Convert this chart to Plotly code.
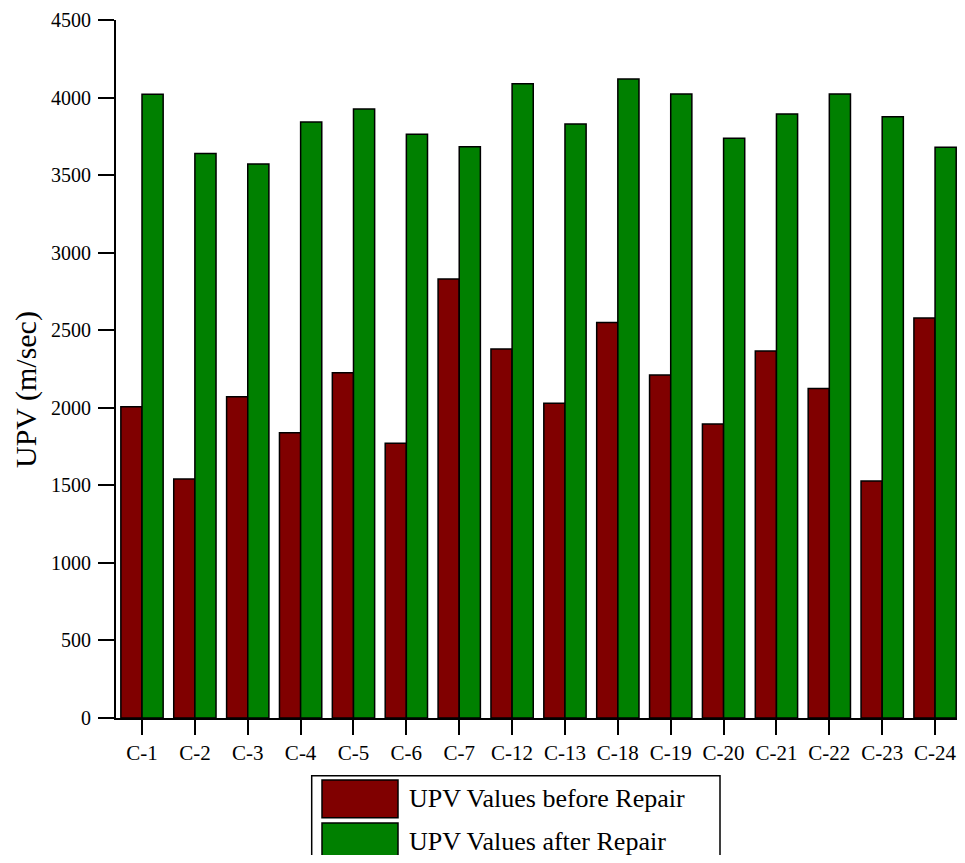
import plotly.graph_objects as go

categories = ["C-1", "C-2", "C-3", "C-4", "C-5", "C-6", "C-7", "C-12",
              "C-13", "C-18", "C-19", "C-20", "C-21", "C-22", "C-23", "C-24"]
before_repair = [2007, 1541, 2071, 1839, 2226, 1771, 2830, 2379,
                 2029, 2549, 2211, 1895, 2366, 2125, 1528, 2579]
after_repair = [4021, 3640, 3572, 3842, 3926, 3763, 3683, 4089,
                3830, 4120, 4023, 3737, 3894, 4023, 3877, 3679]
series_names = ["UPV Values before Repair", "UPV Values after Repair"]
series_colors = ["#800000", "#008000"]
y_ticks = [0, 500, 1000, 1500, 2000, 2500, 3000, 3500, 4000, 4500]
y_title = "UPV (m/sec)"

# page body has an 8px margin: figure drawn from (8, 8); keep it inside the window
OFF = 8
W, H = 965 - 2 * OFF, 863 - 2 * OFF
L, R, T = 116 - OFF, 0, 20 - OFF
B = H - T - 698
pw, ph = W - L - R, H - T - B

def px(x):  # reference window pixel -> paper
    return (x - OFF - L) / pw

def py(y):
    return (H - B - (y - OFF)) / ph

FONT = "Liberation Serif, Times New Roman, serif"

fig = go.Figure()
for name, vals, col in zip(series_names, [before_repair, after_repair], series_colors):
    fig.add_trace(go.Bar(
        x=list(range(len(categories))), y=vals, name=name,
        marker=dict(color=col, line=dict(color="black", width=1.5)),
        showlegend=False,
    ))

fig.update_layout(
    width=W, height=H,
    margin=dict(l=L, r=R, t=T, b=B),
    plot_bgcolor="white", paper_bgcolor="white",
    barmode="group", bargap=0.2, bargroupgap=0,
    font=dict(family=FONT, color="black"),
)
fig.update_xaxes(
    range=[-0.492, 15.415],
    tickmode="array", tickvals=list(range(len(categories))), ticktext=categories,
    ticks="outside", ticklen=15, tickwidth=2, tickcolor="black",
    showline=True, linecolor="black", linewidth=2,
    showgrid=False, zeroline=False,
    tickfont=dict(family=FONT, size=21, color="black"),
    ticklabelstandoff=0,
)
fig.update_yaxes(
    range=[0, 4500],
    tickmode="array", tickvals=y_ticks, ticktext=[str(v) for v in y_ticks],
    ticks="outside", ticklen=16, tickwidth=2, tickcolor="black",
    showline=True, linecolor="black", linewidth=2,
    showgrid=False, zeroline=False,
    tickfont=dict(family=FONT, size=20, color="black"),
    ticklabelstandoff=3,
)

# y-axis title
fig.add_annotation(
    x=px(26), y=py(390), xref="paper", yref="paper",
    text=y_title, textangle=-90, showarrow=False,
    font=dict(family=FONT, size=30, color="black"),
    xanchor="center", yanchor="middle",
)

# custom legend box
fig.add_shape(type="rect", xref="paper", yref="paper",
              x0=px(311.7), x1=px(720), y0=py(775.7), y1=py(875),
              line=dict(color="black", width=1.5), fillcolor="rgba(0,0,0,0)")
sw_rows = [(780, 817.7), (823, 860)]
for (ya, yb), name, col in zip(sw_rows, series_names, series_colors):
    fig.add_shape(type="rect", xref="paper", yref="paper",
                  x0=px(322), x1=px(398), y0=py(ya), y1=py(yb),
                  line=dict(color="black", width=1.5), fillcolor=col)
    fig.add_annotation(
        x=px(407), y=py((ya + yb) / 2), xref="paper", yref="paper",
        text=name, showarrow=False, xanchor="left", yanchor="middle",
        font=dict(family=FONT, size=26, color="black"),
    )

fig.write_html("out.html")
